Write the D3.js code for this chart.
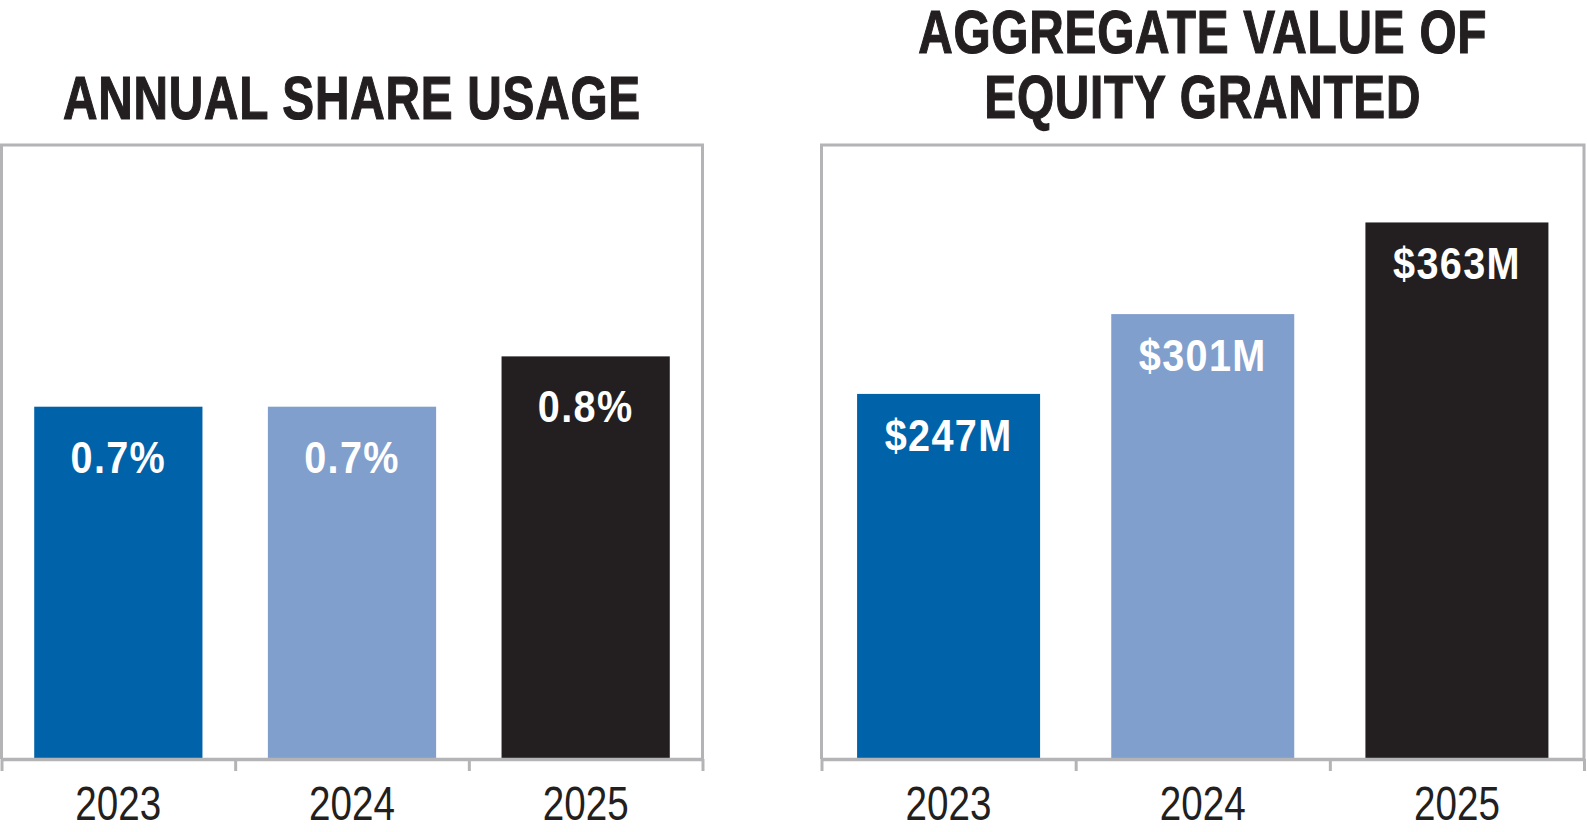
<!DOCTYPE html>
<html>
<head>
<meta charset="utf-8">
<script src="https://cdn.jsdelivr.net/npm/d3@7"></script>
<style>
	body { margin: 0; background: #fff; }
	svg { display: block; }
	text { font-family: "Liberation Sans", Arial, sans-serif; }
</style>
</head>
<body>
<svg id="d3" width="1587" height="832"></svg>
<script>
// chart data
var years = ['2023', '2024', '2025'];
var shareUsage = [0.7, 0.7, 0.8];
var shareLabels = ['0.7%', '0.7%', '0.8%'];
var equityValue = [247, 301, 363];
var equityLabels = ['$247M', '$301M', '$363M'];
var barColors = ['#0063a9', '#819fcc', '#231f20'];

var frameColor = '#b4b4b7';
var axisY = 759, topY = 145, tickBottom = 771;

var svg = d3.select('#d3');

// no condensed font installed, so squeeze the normal one sideways
function squeezed(sel, k){
	sel.attr('transform', function(d){ return 'translate(' + d.x + ',' + d.y + ') scale(' + k + ',1)'; });
	return sel.append('text').attr('text-anchor', 'middle');
}

function panel(opts){
	var x = d3.scaleBand()
		.domain(years)
		.range([opts.x0, opts.x1])
		.paddingInner(0.28)
		.paddingOuter(0.14);
	var y = d3.scaleLinear()
		.domain([0, opts.max])
		.range([axisY, topY]);
	var g = svg.append('g');

	// bars
	g.selectAll('rect.bar')
		.data(opts.values)
	  .enter().append('rect')
		.attr('class', 'bar')
		.attr('x', function(d, i){ return x(years[i]); })
		.attr('y', function(d){ return y(d); })
		.attr('width', x.bandwidth())
		.attr('height', function(d){ return axisY - y(d); })
		.attr('fill', function(d, i){ return barColors[i]; });

	// value labels inside bars
	var vals = opts.values.map(function(d, i){
		return {x: x(years[i]) + x.bandwidth() / 2, y: y(d) + opts.labelDy, t: opts.labels[i]};
	});
	squeezed(g.selectAll('g.val').data(vals).enter().append('g').attr('class', 'val'), 0.9)
		.attr('fill', '#fff')
		.attr('font-weight', 'bold')
		.attr('font-size', 44)
		.attr('letter-spacing', 1.5)
		.text(function(d){ return d.t; });

	// frame: top + sides
	g.append('path')
		.attr('d', 'M' + opts.x0 + ',' + axisY + 'V' + topY + 'H' + opts.x1 + 'V' + axisY)
		.attr('fill', 'none')
		.attr('stroke', frameColor)
		.attr('stroke-width', 3);

	// bottom axis with ticks on band edges
	var edge = d3.scaleLinear().domain([0, years.length]).range([opts.x0, opts.x1]);
	var ax = g.append('g')
		.attr('transform', 'translate(0,' + axisY + ')')
		.call(d3.axisBottom(edge).tickValues(d3.range(years.length + 1)).tickFormat('').tickSize(tickBottom - axisY).tickSizeOuter(0));
	ax.select('.domain').attr('stroke', frameColor).attr('stroke-width', 3.5);
	ax.selectAll('.tick line').attr('stroke', frameColor).attr('stroke-width', 3);

	// year labels
	var yrs = years.map(function(d){ return {x: x(d) + x.bandwidth() / 2, y: 820, t: d}; });
	squeezed(g.selectAll('g.year').data(yrs).enter().append('g').attr('class', 'year'), 0.805)
		.attr('fill', '#231f20')
		.attr('font-size', 48)
		.text(function(d){ return d.t; });

	// title (a thin stroke makes it heavier, like the original)
	var cx = (opts.x0 + opts.x1) / 2;
	var tt = opts.title.map(function(d, i){ return {x: cx, y: opts.titleY[i], t: d}; });
	squeezed(g.selectAll('g.title').data(tt).enter().append('g').attr('class', 'title'), 0.77)
		.attr('fill', '#231f20')
		.attr('stroke', '#231f20')
		.attr('stroke-width', 1.2)
		.attr('font-weight', 'bold')
		.attr('font-size', 62)
		.attr('letter-spacing', 1)
		.text(function(d){ return d.t; });
}

panel({x0: 1.5, x1: 702.5, max: 1.22, values: shareUsage, labels: shareLabels,
	labelDy: 66, title: ['ANNUAL SHARE USAGE'], titleY: [119]});
panel({x0: 821.5, x1: 1584, max: 415.4, values: equityValue, labels: equityLabels,
	labelDy: 57, title: ['AGGREGATE VALUE OF', 'EQUITY GRANTED'], titleY: [53, 118]});
</script>
</body>
</html>
